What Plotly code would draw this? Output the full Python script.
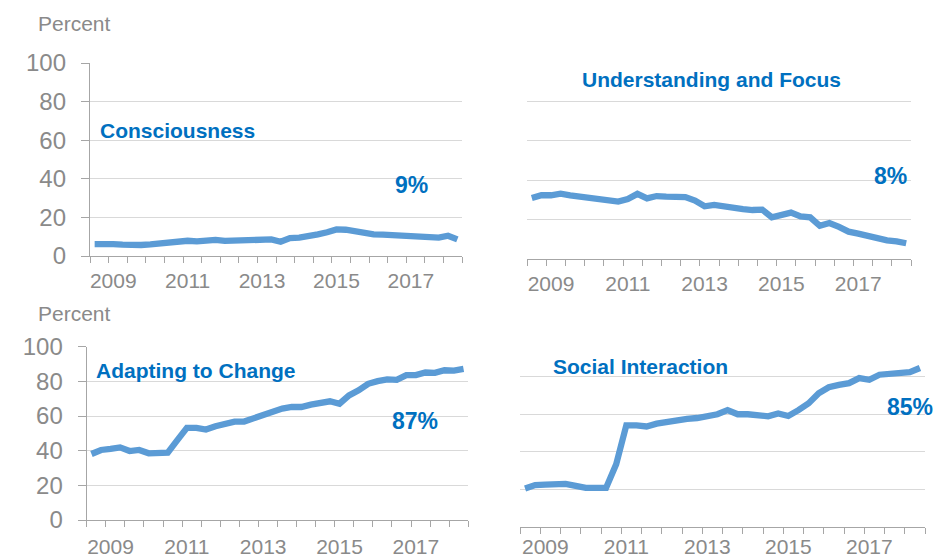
import pandas as pd
import plotly.graph_objects as go

# Quarterly observations, 2008Q3 .. 2018Q2
quarters = pd.period_range("2008Q3", "2018Q2", freq="Q")
xq = [p.year + (p.quarter - 1) * 0.25 + 0.125 for p in quarters]

consciousness = [6.2, 6.4, 6.2, 5.9, 5.5, 5.7, 6.0, 6.6, 6.6, 7.3,
                 7.9, 7.6, 8.3, 8.3, 7.8, 7.9, 7.9, 8.3, 8.3, 8.6,
                 7.4, 9.3, 9.5, 10.0, 11.2, 12.3, 13.8, 13.6, 12.8, 11.6,
                 11.2, 11.1, 10.9, 10.5, 10.9, 10.5, 10.0, 9.5, 10.5, 8.6]
understanding = [31.0, 32.4, 32.4, 33.2, 32.4, 31.9, 31.4, 31.0, 29.7, 29.2,
                 30.5, 33.1, 30.8, 32.0, 31.7, 32.0, 31.5, 29.7, 26.8, 27.5,
                 26.6, 25.9, 25.4, 24.9, 25.1, 21.2, 22.4, 23.6, 21.7, 21.2,
                 16.9, 18.3, 16.3, 13.9, 12.9, 11.7, 10.2, 9.5, 9.0, 8.0]
adapting = [38.1, 40.4, 41.0, 41.9, 39.8, 40.4, 38.5, 38.5, 38.9, 46.1,
            53.2, 53.2, 52.2, 54.1, 55.7, 56.8, 56.8, 58.7, 60.6, 63.0,
            64.3, 65.2, 65.2, 66.6, 67.1, 68.5, 67.1, 71.9, 74.8, 78.6,
            80.1, 81.1, 80.9, 83.6, 83.6, 85.1, 84.9, 86.4, 86.2, 87.2]
social = [20.4, 22.2, 22.5, 22.9, 22.9, 21.8, 20.7, 20.7, 20.7, 33.3,
          54.1, 54.1, 53.5, 55.0, 56.0, 57.1, 57.5, 58.0, 58.6, 60.0,
          62.2, 60.0, 60.0, 59.8, 58.9, 60.4, 59.1, 62.2, 65.8, 71.2,
          74.4, 75.7, 76.6, 79.3, 78.4, 81.1, 81.6, 82.3, 82.5, 84.7]

panel_titles = ["Consciousness", "Understanding and Focus", "Adapting to Change", "Social Interaction"]
end_labels = ["9%", "8%", "87%", "85%"]
year_labels = ["2009", "2011", "2013", "2015", "2017"]
year_vals = [2009, 2011, 2013, 2015, 2017]
y_ticks = [0, 20, 40, 60, 80, 100]

W, H = 937, 558
FONT = "Arial, Liberation Sans, sans-serif"
LINE = "#5B9BD5"
BLUE = "#0070C0"
GRAY = "#8A8A8A"
AX = "#A6A6A6"
GRID = "#D9D9D9"

def dx(x0, x1):
    return [x0 / W, x1 / W]

def dy(ytop, ybot):
    return [1 - ybot / H, 1 - ytop / H]

# pixel boxes: (left, right, top, bottom)
boxes = [(90, 462, 63, 256), (527, 911, 62.3, 259), (86.7, 468.3, 346.7, 520), (520, 925, 339.3, 526.7)]
standoffs = [6, 6, 8, 1]
series = [consciousness, understanding, adapting, social]

fig = go.Figure()
layout = dict(width=W, height=H, margin=dict(l=0, r=0, t=0, b=0, pad=0, autoexpand=False),
              paper_bgcolor="white", plot_bgcolor="white", showlegend=False,
              font=dict(family=FONT, color=GRAY))

for i, (b, s) in enumerate(zip(boxes, series)):
    n = "" if i == 0 else str(i + 1)
    fig.add_trace(go.Scatter(x=xq, y=s, mode="lines", xaxis="x" + n, yaxis="y" + n,
                             line=dict(color=LINE, width=6.3), hoverinfo="skip"))
    left = i in (0, 2)
    layout["xaxis" + n] = dict(domain=dx(b[0], b[1]), anchor="y" + n, range=[2008.5, 2018.5],
                               automargin=False,
                               tickmode="array", tickvals=[v + 0.125 for v in year_vals], ticktext=year_labels,
                               ticks="", showgrid=False, zeroline=False,
                               showline=True, linecolor=AX, linewidth=1.3,
                               tickfont=dict(size=21, color=GRAY, family=FONT),
                               ticklabelstandoff=standoffs[i],
                               minor=dict(ticks="outside", ticklen=6, tick0=2008.5, dtick=0.5,
                                          tickcolor=AX, tickwidth=1.3, showgrid=False))
    layout["yaxis" + n] = dict(domain=dy(b[2], b[3]), anchor="x" + n, range=[0, 100],
                               automargin=False,
                               tickmode="array", tickvals=y_ticks,
                               showticklabels=left, ticks="outside" if left else "",
                               ticklen=8, tickcolor=AX, tickwidth=1.3,
                               showline=left, linecolor=AX, linewidth=1.3,
                               showgrid=True, gridcolor=GRID, gridwidth=1.3, zeroline=False,
                               tickfont=dict(size=24, color=GRAY, family=FONT),
                               ticklabelstandoff=10)

fig.update_layout(**layout)

def ann(text, x, y, size, color, bold=False, xanchor="center"):
    fig.add_annotation(text=f"<b>{text}</b>" if bold else text, xref="paper", yref="paper",
                       x=x / W, y=1 - y / H, xanchor=xanchor, yanchor="middle",
                       showarrow=False, font=dict(size=size, color=color, family=FONT))

ann("Percent", 36, 23, 21, GRAY, xanchor="left")
ann("Percent", 36, 313, 21, GRAY, xanchor="left")
ann(panel_titles[0], 98, 131, 21, BLUE, True, "left")
ann(end_labels[0], 411.5, 185, 23, BLUE, True)
ann(panel_titles[1], 711.8, 79.3, 21, BLUE, True)
ann(end_labels[1], 890.5, 176, 23, BLUE, True)
ann(panel_titles[2], 94, 370, 21, BLUE, True, "left")
ann(end_labels[2], 415, 420.7, 23, BLUE, True)
ann(panel_titles[3], 551, 366, 21, BLUE, True, "left")
ann(end_labels[3], 910, 407, 23, BLUE, True)

fig.write_html("out.html")
